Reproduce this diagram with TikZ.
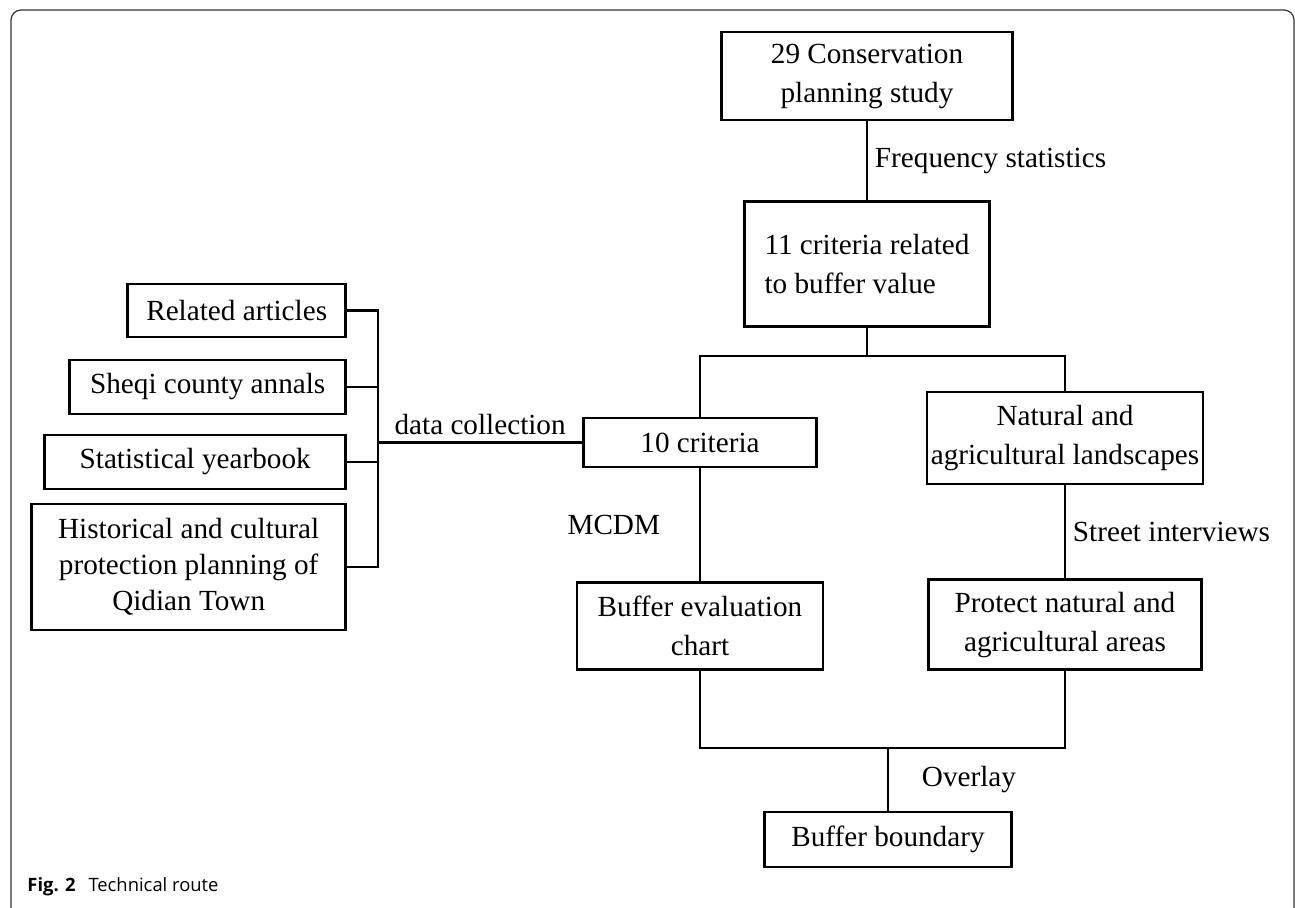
\documentclass[tikz,border=0pt]{standalone}
\usepackage{fontspec}
\setmainfont{Liberation Serif}
\newfontfamily\capfont{Open Sans}
\usetikzlibrary{positioning}

\begin{document}
\begin{tikzpicture}[
x=0.5pt, y=-0.5pt,
box/.style={draw, line width=1.3pt, align=center, inner sep=2pt, font=\fontsize{14.6}{19.5}\selectfont},
src/.style={box, anchor=east, font=\fontsize{14.6}{18}\selectfont},
lbl/.style={font=\fontsize{14.6}{18}\selectfont},
link/.style={line width=1.3pt}
]
\useasboundingbox (0,0) rectangle (1295,908);
\draw[line width=0.6pt, draw=black!80, rounded corners=5pt] (11,930) -- (11,10) -- (1294,10) -- (1294,930);

% main column
\node[box, minimum width=145.5pt, minimum height=44pt] (cons) at (867,76) {29 Conservation\\planning study};
\node[box, below=39.5pt of cons, minimum width=122.5pt, minimum height=62.5pt, align=left] (crit11) {11 criteria related\\to buffer value};
\node[box, minimum width=116.5pt, minimum height=24.5pt] (crit10) at (700,442.5) {10 criteria};
\node[box, minimum width=138pt, minimum height=46pt] (natural) at (1065,438) {Natural and\\agricultural landscapes};
\node[box, below=56.5pt of crit10, minimum width=123pt, minimum height=43.5pt] (bufeval) {Buffer evaluation\\chart};
\node[box, below=46.5pt of natural, minimum width=136.5pt, minimum height=45pt] (protect) {Protect natural and\\agricultural areas};
\node[box, minimum width=123.5pt, minimum height=27.5pt] (boundary) at (888,839.5) {Buffer boundary};

% sources
\node[src, minimum width=109pt, minimum height=26.5pt] (related) at (347,310.5) {Related articles};
\node[src, minimum width=138pt, minimum height=27pt] (sheqi) at (347,387) {Sheqi county annals};
\node[src, minimum width=150.5pt, minimum height=27pt] (stat) at (347,462) {Statistical yearbook};
\node[src, minimum width=157pt, minimum height=63pt] (hist) at (347,567) {Historical and cultural\\protection planning of\\Qidian Town};

\coordinate (gather) at (378,442.5);
\coordinate (split) at (867,356);
\coordinate (merge) at (888,748);

% connectors
\draw[link] (cons) -- node[lbl, right]{Frequency statistics} (crit11);
\draw[link] (crit11) -- (split);
\draw[link] (crit10.north) -- (crit10.north |- split) -- (natural.north |- split) -- (natural.north);
\draw[link] (crit10) -- node[lbl, left=16pt]{MCDM} (bufeval);
\draw[link] (natural) -- node[lbl, right]{Street interviews} (protect);
\draw[link] (bufeval.south) -- (bufeval.south |- merge) -- (protect.south |- merge) -- (protect.south);
\draw[link] (merge) -- node[lbl, right=13pt]{Overlay} (boundary);

\draw[link] (related.east) -- (related.east -| gather) -- (hist.east -| gather) -- (hist.east);
\draw[link] (sheqi.east) -- (sheqi.east -| gather);
\draw[link] (stat.east) -- (stat.east -| gather);
\draw[link] (gather) -- node[lbl, above]{data collection} (crit10.west);

\node[anchor=west, inner sep=0pt, font=\capfont\fontsize{9.2}{11}\selectfont] (caption) at (27,887) {\textbf{Fig. 2}\hspace{0.7em}Technical route};
\end{tikzpicture}
\end{document}
